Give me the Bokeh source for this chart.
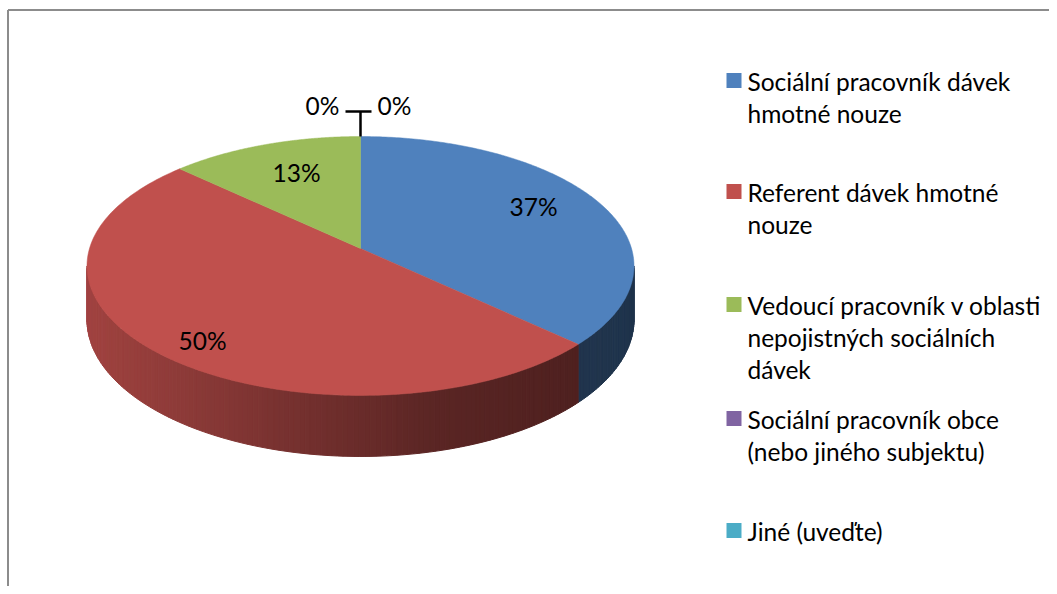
import numpy as np
from bokeh.plotting import figure
from bokeh.models import Range1d
from bokeh.core.properties import value
from bokeh.embed import file_html
from bokeh.resources import INLINE

# ---- data ----
categories = [
    "Sociální pracovník dávek hmotné nouze",
    "Referent dávek hmotné nouze",
    "Vedoucí pracovník v oblasti nepojistných sociálních dávek",
    "Sociální pracovník obce (nebo jiného subjektu)",
    "Jiné (uveďte)",
]
legend_lines = [
    ["Sociální pracovník dávek", "hmotné nouze"],
    ["Referent dávek hmotné", "nouze"],
    ["Vedoucí pracovník v oblasti", "nepojistných sociálních", "dávek"],
    ["Sociální pracovník obce", "(nebo jiného subjektu)"],
    ["Jiné (uveďte)"],
]
percent = [37, 50, 13, 0, 0]
colors = ["#4f81bd", "#c0504d", "#9bbb59", "#8064a2", "#4bacc6"]

# ---- layout (page pixel coordinates) ----
W, H = 1049, 586
FONT = "Lato"
FS = "24.5px"
cx, cy0 = 360.0, 248.0      # pie apex
A, B, K, DEPTH = 271.0, 127.1, 0.135, 52.8

p = figure(width=W, height=H, output_backend="svg", toolbar_location=None,
           x_range=Range1d(0, W), y_range=Range1d(H, 0),
           min_border=0, outline_line_color=None)
p.axis.visible = False
p.grid.visible = False


def proj(t, r=1.0, depth=0.0):
    X = r * np.cos(t)
    Z = r * np.sin(t)
    d = 1 + K * Z
    return cx + A * X / d, cy0 - (B * Z - depth) / d


def shade(hexcol, f):
    h = hexcol.lstrip("#")
    r, g, b = (int(h[i:i + 2], 16) for i in (0, 2, 4))
    return "#%02x%02x%02x" % (int(r * f), int(g * f), int(b * f))


total = float(sum(percent))
starts, ends = [], []
a = 90.0
for v in percent:
    starts.append(a)
    a -= v / total * 360.0
    ends.append(a)

# ---- side strips ----
sil = np.degrees(np.arcsin(K))
vis_lo, vis_hi = -180 + sil, -sil
sx, sy, sc = [], [], []
for i, v in enumerate(percent):
    if v <= 0:
        continue
    for sh in (-360, 0, 360):
        lo = max(ends[i] + sh, vis_lo)
        hi = min(starts[i] + sh, vis_hi)
        if hi <= lo:
            continue
        n = max(2, int((hi - lo) / 1.0) + 1)
        ang = np.radians(np.linspace(lo, hi, n))
        for j in range(n - 1):
            t0, t1 = ang[j], ang[j + 1]
            x0t, y0t = proj(t0)
            x1t, y1t = proj(t1)
            x0b, y0b = proj(t0, depth=DEPTH)
            x1b, y1b = proj(t1, depth=DEPTH)
            xm = (x0t + x1t) / 2
            f = np.interp(xm, [85, 280, 440, 580, 640], [0.84, 0.63, 0.47, 0.41, 0.40])
            col = shade(colors[i], f)
            sx.append([x0t, x1t, x1b, x0b])
            sy.append([y0t, y1t, y1b, y0b])
            sc.append(col)
p.patches(sx, sy, fill_color=sc, line_color=sc, line_width=1)

# ---- top face ----
tx, ty, tc = [], [], []
for i, v in enumerate(percent):
    if v <= 0:
        continue
    ang = np.radians(np.linspace(starts[i], ends[i], 200))
    xs, ys = proj(ang)
    tx.append([cx] + list(xs))
    ty.append([cy0] + list(ys))
    tc.append(colors[i])
p.patches(tx, ty, fill_color=tc, line_color=tc, line_width=0.5)

# ---- data labels ----
label_pos = [(533, 206), (202, 340), (296, 172), (322, 105), (394, 105)]
p.text(x=[q[0] for q in label_pos], y=[q[1] for q in label_pos],
       text=[f"{v}%" for v in percent], text_font=value(FONT),
       text_font_size=FS, text_color="#000000",
       text_align="center", text_baseline="middle")
# leader lines for the 0% labels
bx, by = proj(np.radians(90.0))
p.segment(x0=[345, cx], y0=[111, 111], x1=[371, cx], y1=[111, by],
          line_color="#000000", line_width=2.5)

# ---- legend ----
leg_y = [81, 192, 305, 419, 531]
line_gap = 32
p.rect(x=[733.5] * 5, y=[y - 1 for y in leg_y], width=15, height=15,
       fill_color=colors, line_color=None)
lx, ly, lt = [], [], []
for i, lines in enumerate(legend_lines):
    for j, s in enumerate(lines):
        lx.append(747)
        ly.append(leg_y[i] + j * line_gap)
        lt.append(s)
p.text(x=lx, y=ly, text=lt, text_font=value(FONT), text_font_size=FS,
       text_color="#000000", text_align="left", text_baseline="middle")

# ---- frame border (top and left visible) ----
p.segment(x0=[7.5, 7.5], y0=[9.5, 9.5], x1=[W, 7.5], y1=[9.5, H],
          line_color="#8c8c8c", line_width=2)

open("out.html", "w").write(file_html(p, INLINE))
